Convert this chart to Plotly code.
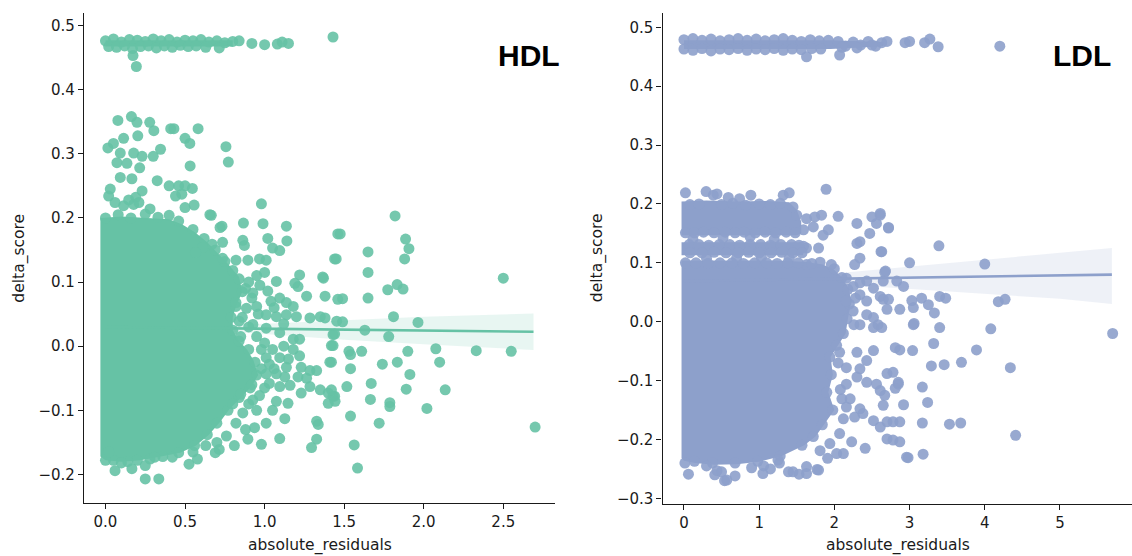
import plotly.graph_objects as go

# ---------------- HDL panel data ----------------
hdl_color = "#66c2a5"
# outlines of the fully over-plotted (solid) areas of the HDL cloud
hdl_core_x = [-0.032, -0.032, 0.10, 0.25, 0.40, 0.48, 0.56, 0.64, 0.70, 0.77, 0.84, 0.86, 0.82, 0.80, 0.80, 0.84,
              0.89, 0.93, 0.96, 0.92, 0.86, 0.78, 0.72, 0.65, 0.57, 0.47, 0.35, 0.22, 0.10, 0.0]
hdl_core_y = [-0.172, 0.200, 0.202, 0.200, 0.198, 0.190, 0.178, 0.162, 0.147, 0.128, 0.108, 0.085, 0.062, 0.045,
              0.025, 0.008, -0.005, -0.022, -0.045, -0.062, -0.078, -0.098, -0.118, -0.138, -0.155, -0.166,
              -0.172, -0.178, -0.180, -0.178]
hdl_band_x = [0.0, 0.0, 0.80, 0.80]
hdl_band_y = [0.467, 0.477, 0.477, 0.467]

hdl_top_band = [
    (0.00, 0.476), (0.05, 0.479), (0.10, 0.474), (0.15, 0.478), (0.20, 0.477), (0.25, 0.475), (0.30, 0.479),
    (0.35, 0.476), (0.40, 0.478), (0.45, 0.474), (0.50, 0.477), (0.55, 0.476), (0.60, 0.478), (0.65, 0.474),
    (0.70, 0.476), (0.75, 0.473), (0.80, 0.475), (0.84, 0.476),
    (0.02, 0.467), (0.07, 0.466), (0.12, 0.468), (0.17, 0.464), (0.22, 0.467), (0.27, 0.468), (0.32, 0.465),
    (0.37, 0.468), (0.42, 0.466), (0.47, 0.469), (0.52, 0.467), (0.57, 0.468), (0.63, 0.466), (0.715, 0.465),
    (0.92, 0.472), (1.00, 0.470), (1.08, 0.471), (1.11, 0.474), (1.15, 0.472), (1.43, 0.482),
    (0.173, 0.453), (0.194, 0.436)]

hdl_upper = [
    (0.078, 0.352), (0.163, 0.358), (0.198, 0.349), (0.278, 0.349), (0.304, 0.336), (0.41, 0.339), (0.43, 0.339),
    (0.582, 0.339), (0.50, 0.324), (0.53, 0.316), (0.757, 0.311), (0.772, 0.287), (0.532, 0.281), (0.114, 0.324),
    (0.203, 0.328), (0.015, 0.309), (0.05, 0.316), (0.093, 0.301), (0.177, 0.301), (0.23, 0.296), (0.30, 0.296),
    (0.346, 0.307), (0.072, 0.286), (0.135, 0.285), (0.215, 0.278), (0.093, 0.263), (0.166, 0.261),
    (0.325, 0.258), (0.40, 0.25), (0.46, 0.25), (0.50, 0.25), (0.546, 0.246), (0.03, 0.245), (0.02, 0.234),
    (0.23, 0.242), (0.19, 0.232), (0.44, 0.234), (0.48, 0.237), (0.114, 0.219), (0.06, 0.224), (0.146, 0.228),
    (0.177, 0.221), (0.50, 0.216), (0.557, 0.22), (0.28, 0.214), (0.21, 0.224), (0.656, 0.205), (0.98, 0.222),
    (0.00, 0.200), (0.08, 0.205), (0.16, 0.200), (0.25, 0.206), (0.33, 0.201), (0.40, 0.204)]

hdl_core_edge = [
    (0.84, 0.105), (0.86, 0.085), (0.82, 0.062), (0.79, 0.045), (0.80, 0.025), (0.84, 0.008), (0.90, -0.005),
    (0.94, -0.025), (0.95, -0.045), (0.91, -0.065), (0.84, -0.080), (0.77, -0.100), (0.70, -0.120),
    (0.64, -0.138), (0.56, -0.155), (0.46, -0.166), (0.36, -0.172), (0.28, -0.176), (0.20, -0.178),
    (0.14, -0.180), (0.05, -0.178), (0.46, 0.195), (0.55, 0.182), (0.62, 0.168), (0.69, 0.150), (0.75, 0.132),
    (0.80, 0.118),
    (0.88, 0.090), (0.92, 0.075), (0.97, 0.095), (1.04, 0.070), (0.86, 0.045), (0.90, 0.030), (0.96, 0.050),
    (1.06, 0.060), (1.12, 0.035), (0.85, 0.015), (0.95, 0.015), (1.00, 0.005), (1.12, 0.000), (1.15, -0.020),
    (0.98, -0.035), (1.06, -0.035), (1.00, -0.065), (0.92, -0.060), (0.90, -0.090), (0.95, -0.100),
    (1.05, -0.100), (0.82, -0.120), (0.88, -0.130), (0.76, -0.140), (0.70, -0.150), (0.55, -0.165),
    (0.80, -0.090), (0.85, -0.075)]

hdl_edge = [
    (0.732, 0.187), (0.867, 0.192), (0.99, 0.191), (1.137, 0.187), (0.72, 0.185), (0.665, 0.204), (0.863, 0.165),
    (0.873, 0.157), (1.02, 0.168), (1.05, 0.153), (1.095, 0.149), (1.14, 0.164), (0.736, 0.162), (0.67, 0.159),
    (0.61, 0.154), (0.566, 0.146), (0.82, 0.134), (0.895, 0.134), (0.968, 0.136), (1.01, 0.134), (0.736, 0.137),
    (1.22, 0.111), (1.365, 0.108), (1.44, 0.136), (1.46, 0.175),
    (1.074, 0.101), (1.19, 0.098), (1.21, 0.093), (1.37, 0.106), (1.264, 0.078), (1.38, 0.078), (1.46, 0.073),
    (0.926, 0.083), (1.02, 0.086), (1.095, 0.075), (1.137, 0.068), (1.18, 0.062), (0.82, 0.068), (0.886, 0.059),
    (0.95, 0.062), (0.90, 0.10), (0.95, 0.11), (1.0, 0.115),
    (1.01, 0.049), (1.074, 0.046), (1.137, 0.049), (1.2, 0.046), (1.285, 0.044), (1.35, 0.046), (1.38, 0.044),
    (1.453, 0.039), (0.84, 0.039), (0.926, 0.034), (1.01, 0.028), (1.095, 0.021), (1.18, 0.011), (1.22, 0.011),
    (1.43, 0.018), (1.42, 0.001), (1.41, -0.025),
    (0.98, -0.005), (1.05, -0.005), (1.01, -0.018), (1.095, -0.018), (1.03, -0.028), (1.137, -0.033),
    (1.18, -0.005), (1.22, -0.015), (1.23, -0.033), (1.285, -0.038), (1.327, -0.038), (1.01, -0.043),
    (1.074, -0.043), (1.127, -0.048), (1.16, -0.061), (1.095, -0.063), (1.03, -0.058), (1.21, -0.048),
    (1.264, -0.05), (1.285, -0.063), (1.35, -0.068), (1.40, -0.073), (1.44, -0.078), (1.23, -0.073),
    (1.074, -0.086), (1.147, -0.089), (1.40, -0.089), (0.926, -0.084), (0.968, -0.077), (0.863, -0.104),
    (0.937, -0.127), (1.01, -0.12), (1.127, -0.113), (1.327, -0.117), (1.337, -0.122), (1.327, -0.145),
    (1.295, -0.158), (1.095, -0.144), (0.895, -0.145), (0.98, -0.153), (0.81, -0.155), (0.69, -0.166),
    (0.715, -0.161), (0.63, -0.155), (0.525, -0.184), (0.578, -0.176), (0.42, -0.173), (0.31, -0.173),
    (0.25, -0.186), (0.166, -0.191), (0.06, -0.194), (0.25, -0.207), (0.335, -0.207), (0.0, -0.178),
    (0.10, -0.182), (0.02, -0.165)]

hdl_far = [
    (1.82, 0.203), (1.475, 0.175), (1.886, 0.167), (1.907, 0.152), (1.88, 0.136), (1.65, 0.147), (1.45, 0.136),
    (1.65, 0.115), (2.50, 0.106), (1.774, 0.088), (1.833, 0.096), (1.87, 0.089), (1.49, 0.074), (1.65, 0.075),
    (1.49, 0.038), (1.81, 0.046), (1.964, 0.037), (1.63, 0.025), (1.44, 0.019), (1.78, 0.015), (1.43, 0.001),
    (1.53, -0.008), (1.54, -0.013), (1.61, -0.008), (1.90, -0.008), (2.076, -0.004), (2.33, -0.007),
    (2.55, -0.008), (2.10, -0.025), (1.834, -0.025), (1.74, -0.028), (1.54, -0.035), (1.42, -0.025),
    (1.913, -0.044), (1.67, -0.058), (1.517, -0.063), (1.89, -0.067), (2.135, -0.068), (1.43, -0.078),
    (1.443, -0.086), (1.42, -0.068), (1.665, -0.083), (1.787, -0.088), (1.787, -0.094), (2.02, -0.097),
    (1.54, -0.109), (1.72, -0.12), (2.70, -0.126), (1.563, -0.154), (1.584, -0.19)]

hdl_fit_x = [0.0, 0.5, 1.0, 1.5, 2.0, 2.69]
hdl_fit_y = [0.030, 0.0285, 0.027, 0.0255, 0.0245, 0.0225]
hdl_ci_hi = [0.034, 0.031, 0.035, 0.041, 0.046, 0.051]
hdl_ci_lo = [0.026, 0.026, 0.019, 0.010, 0.003, -0.006]

hdl_xticks = [0.0, 0.5, 1.0, 1.5, 2.0, 2.5]
hdl_xticktext = ["0.0", "0.5", "1.0", "1.5", "2.0", "2.5"]
hdl_yticks = [-0.2, -0.1, 0.0, 0.1, 0.2, 0.3, 0.4, 0.5]
hdl_yticktext = ["\u22120.2", "\u22120.1", "0.0", "0.1", "0.2", "0.3", "0.4", "0.5"]

# ---------------- LDL panel data ----------------
ldl_color = "#8da0cb"
ldl_core1_x = [-0.032, -0.032, 0.30, 0.70, 1.10, 1.40, 1.50, 1.56, 1.56, 1.50]
ldl_core1_y = [0.147, 0.204, 0.206, 0.204, 0.205, 0.203, 0.190, 0.170, 0.150, 0.147]
ldl_core2_x = [-0.032, -0.032, 1.55, 1.62, 1.58]
ldl_core2_y = [0.113, 0.135, 0.135, 0.125, 0.113]
ldl_core3_x = [-0.032, -0.032, 0.6, 1.2, 1.6, 1.85, 2.0, 2.1, 2.2, 2.22, 2.18, 2.15, 2.05, 1.95, 1.98, 1.92, 2.0,
               1.85, 1.75, 1.6, 1.3, 1.0, 0.7, 0.4, 0.15, 0.0]
ldl_core3_y = [-0.232, 0.104, 0.104, 0.104, 0.102, 0.097, 0.088, 0.075, 0.055, 0.03, 0.005, -0.02, -0.04, -0.06,
               -0.09, -0.12, -0.15, -0.178, -0.195, -0.21, -0.228, -0.238, -0.242, -0.243, -0.24, -0.236]
ldl_band_x = [0.0, 0.0, 1.95, 2.65, 2.65, 1.95]
ldl_band_y = [0.463, 0.478, 0.478, 0.475, 0.468, 0.463]

ldl_top_band = [
    (0.00, 0.479), (0.12, 0.481), (0.24, 0.478), (0.36, 0.480), (0.48, 0.477), (0.60, 0.479), (0.72, 0.481),
    (0.84, 0.478), (0.96, 0.480), (1.08, 0.477), (1.20, 0.479), (1.32, 0.481), (1.44, 0.478), (1.56, 0.476),
    (1.68, 0.479), (1.80, 0.477), (1.92, 0.478),
    (0.00, 0.463), (0.12, 0.461), (0.24, 0.464), (0.36, 0.460), (0.48, 0.463), (0.60, 0.462), (0.72, 0.464),
    (0.84, 0.461), (0.96, 0.463), (1.08, 0.462), (1.20, 0.464), (1.32, 0.461), (1.44, 0.463), (1.56, 0.462),
    (1.70, 0.464), (1.82, 0.463),
    (2.05, 0.476), (2.15, 0.468), (2.25, 0.475), (2.35, 0.470), (2.45, 0.476), (2.55, 0.468), (2.63, 0.474),
    (2.70, 0.476), (2.10, 0.466), (2.30, 0.465), (2.50, 0.470), (2.94, 0.474), (3.00, 0.476), (3.20, 0.474),
    (3.27, 0.480), (3.38, 0.467), (4.20, 0.468), (1.63, 0.450), (2.07, 0.453)]

ldl_upper = [
    (0.02, 0.219), (0.295, 0.221), (0.39, 0.215), (0.44, 0.217), (0.59, 0.211), (0.74, 0.209), (0.89, 0.215),
    (1.32, 0.215), (1.40, 0.219), (1.89, 0.225),
    (0.08, 0.199), (0.20, 0.200), (0.50, 0.199), (0.65, 0.201), (0.82, 0.198), (1.00, 0.200), (1.15, 0.199),
    (1.28, 0.201),
    (1.50, 0.181), (1.63, 0.175), (1.74, 0.178), (1.83, 0.181), (1.92, 0.156), (1.85, 0.147), (1.72, 0.161),
    (1.59, 0.156), (2.05, 0.179), (1.45, 0.195),
    (0.12, 0.140), (0.52, 0.142), (0.88, 0.144), (1.20, 0.140), (0.30, 0.108), (1.03, 0.109), (0.70, 0.108),
    (1.40, 0.108),
    (1.63, 0.125), (1.79, 0.125), (1.59, 0.128), (1.96, 0.097), (1.81, 0.101), (1.63, 0.097)]

# bumps along the edges of the stacked horizontal bands
ldl_band_edges = [
    (0.02, 0.151), (0.14, 0.151), (0.26, 0.152), (0.40, 0.151), (0.55, 0.152), (0.68, 0.151), (0.80, 0.152),
    (0.95, 0.151), (1.08, 0.152), (1.22, 0.151), (1.36, 0.152), (1.48, 0.151),
    (0.07, 0.131), (0.20, 0.131), (0.33, 0.130), (0.47, 0.131), (0.61, 0.131), (0.74, 0.130), (0.88, 0.131),
    (1.02, 0.131), (1.15, 0.130), (1.29, 0.131), (1.43, 0.131), (1.53, 0.130),
    (0.08, 0.117), (0.24, 0.117), (0.40, 0.118), (0.56, 0.117), (0.72, 0.117), (0.86, 0.118), (1.00, 0.117),
    (1.16, 0.117), (1.30, 0.118), (1.45, 0.117), (1.57, 0.117),
    (0.02, 0.100), (0.16, 0.100), (0.32, 0.099), (0.48, 0.100), (0.64, 0.100), (0.79, 0.099), (0.94, 0.100),
    (1.10, 0.100), (1.24, 0.099), (1.38, 0.100), (1.52, 0.100), (1.70, 0.099)]

ldl_core_edge = [
    (2.00, 0.090), (2.10, 0.075), (2.18, 0.055), (2.20, 0.030), (2.17, 0.005), (2.12, -0.020), (2.03, -0.040),
    (1.94, -0.060), (1.96, -0.090), (1.90, -0.120), (1.98, -0.150), (1.84, -0.175), (1.72, -0.195),
    (1.57, -0.210), (1.28, -0.228), (0.98, -0.237), (0.68, -0.240), (0.38, -0.240), (0.14, -0.237)]

ldl_right = [
    (2.30, 0.167), (2.50, 0.178), (2.61, 0.184), (2.56, 0.167), (2.72, 0.159), (2.47, 0.150), (2.34, 0.136),
    (2.30, 0.133), (2.62, 0.119), (2.34, 0.108), (2.27, 0.097), (3.00, 0.100), (2.68, 0.086), (2.83, 0.069),
    (2.92, 0.060), (2.43, 0.069), (2.87, 0.021), (3.05, 0.024), (3.05, -0.005), (2.72, 0.038), (2.61, 0.043),
    (2.58, -0.005), (2.52, 0.007),
    (2.16, 0.074), (2.34, 0.066), (2.52, 0.057), (2.34, 0.046), (2.16, 0.035), (2.43, 0.035), (2.25, 0.018),
    (2.43, 0.012), (2.34, -0.005), (2.52, -0.010), (2.25, 0.060), (2.28, 0.040), (2.26, -0.005),
    (2.61, 0.181), (2.72, 0.160), (2.63, 0.119), (3.39, 0.129), (4.00, 0.098), (2.67, 0.084), (2.65, 0.069),
    (3.40, 0.043), (3.48, 0.040), (4.18, 0.034), (4.27, 0.038), (2.65, 0.038), (2.70, 0.021), (3.03, 0.036),
    (3.16, 0.040), (3.25, 0.029), (3.33, 0.015), (2.63, -0.010), (3.06, -0.003), (3.40, -0.010), (4.08, -0.012),
    (5.70, -0.020), (2.81, -0.044), (2.87, -0.048), (3.04, -0.049), (3.32, -0.037), (3.89, -0.048),
    (3.29, -0.075), (3.46, -0.073), (3.69, -0.069), (4.34, -0.078), (2.70, -0.088), (2.78, -0.086),
    (2.85, -0.106), (2.81, -0.113), (3.17, -0.111), (3.24, -0.137), (2.67, -0.125), (2.92, -0.141),
    (2.65, -0.142), (2.70, -0.170), (2.87, -0.170), (2.78, -0.170), (3.17, -0.172), (3.53, -0.174),
    (3.68, -0.172), (2.70, -0.199), (2.78, -0.201), (2.87, -0.204), (2.98, -0.231), (3.18, -0.225),
    (4.41, -0.193),
    (2.07, -0.052), (2.30, -0.052), (2.43, -0.066), (2.52, -0.049), (2.16, -0.078), (2.34, -0.080),
    (2.30, -0.094), (2.16, -0.106), (2.43, -0.103), (2.56, -0.106), (2.85, -0.103), (2.61, -0.117),
    (2.10, -0.131), (2.21, -0.131), (2.16, -0.145), (2.34, -0.148), (2.27, -0.162), (2.38, -0.156),
    (2.52, -0.168), (2.61, -0.179), (2.07, -0.190), (2.23, -0.204), (2.41, -0.215), (2.12, -0.224),
    (2.96, -0.230), (1.94, -0.207), (1.81, -0.219), (2.05, -0.070), (2.08, -0.115), (2.12, -0.165)]

ldl_bottom = [
    (0.06, -0.259), (0.44, -0.253), (0.54, -0.270), (0.68, -0.262), (1.06, -0.245), (1.27, -0.240),
    (1.39, -0.255), (1.53, -0.259), (1.63, -0.258), (1.77, -0.251), (1.91, -0.232), (2.03, -0.224),
    (0.41, -0.260), (0.57, -0.269), (1.05, -0.258), (0.013, -0.240), (0.50, -0.255), (0.30, -0.245),
    (0.90, -0.248), (1.15, -0.250), (1.25, -0.235), (1.45, -0.255), (1.63, -0.246), (1.79, -0.252)]

ldl_fit_x = [0.0, 1.0, 2.0, 3.0, 4.0, 5.0, 5.69]
ldl_fit_y = [0.069, 0.071, 0.073, 0.075, 0.0765, 0.078, 0.080]
ldl_ci_hi = [0.074, 0.075, 0.082, 0.094, 0.106, 0.117, 0.125]
ldl_ci_lo = [0.064, 0.067, 0.064, 0.056, 0.047, 0.039, 0.030]

ldl_xticks = [0, 1, 2, 3, 4, 5]
ldl_xticktext = ["0", "1", "2", "3", "4", "5"]
ldl_yticks = [-0.3, -0.2, -0.1, 0.0, 0.1, 0.2, 0.3, 0.4, 0.5]
ldl_yticktext = ["\u22120.3", "\u22120.2", "\u22120.1", "0.0", "0.1", "0.2", "0.3", "0.4", "0.5"]

panel_titles = ["HDL", "LDL"]
x_title = "absolute_residuals"
y_title = "delta_score"


def rgba(hex_color, a):
    h = hex_color.lstrip("#")
    r, g, b = int(h[0:2], 16), int(h[2:4], 16), int(h[4:6], 16)
    return f"rgba({r},{g},{b},{a})"


def unzip(pairs):
    return [p[0] for p in pairs], [p[1] for p in pairs]


fig = go.Figure()


def add_panel(xa, ya, color, cores, point_groups, fx, fy, lo, hi):
    # confidence band of the regression
    fig.add_trace(go.Scatter(x=fx + fx[::-1], y=hi + lo[::-1], fill="toself", mode="lines",
                             line=dict(width=0), fillcolor=rgba(color, 0.15),
                             xaxis=xa, yaxis=ya, hoverinfo="skip", showlegend=False))
    # solid, fully over-plotted areas of the cloud
    for cx, cy in cores:
        fig.add_trace(go.Scatter(x=cx, y=cy, fill="toself", mode="lines",
                                 line=dict(width=0, color=color), fillcolor=color,
                                 xaxis=xa, yaxis=ya, hoverinfo="skip", showlegend=False))
    px, py = [], []
    for g in point_groups:
        gx, gy = unzip(g)
        px += gx
        py += gy
    fig.add_trace(go.Scatter(x=px, y=py, mode="markers",
                             marker=dict(size=11, color=color, opacity=0.9, line=dict(width=0)),
                             xaxis=xa, yaxis=ya, hoverinfo="skip", showlegend=False))
    fig.add_trace(go.Scatter(x=fx, y=fy, mode="lines", line=dict(color=color, width=2.6),
                             xaxis=xa, yaxis=ya, hoverinfo="skip", showlegend=False))


add_panel("x", "y", hdl_color, [(hdl_core_x, hdl_core_y), (hdl_band_x, hdl_band_y)],
          [hdl_top_band, hdl_upper, hdl_core_edge, hdl_edge, hdl_far],
          hdl_fit_x, hdl_fit_y, hdl_ci_lo, hdl_ci_hi)
add_panel("x2", "y2", ldl_color,
          [(ldl_core1_x, ldl_core1_y), (ldl_core2_x, ldl_core2_y), (ldl_core3_x, ldl_core3_y),
           (ldl_band_x, ldl_band_y)],
          [ldl_top_band, ldl_upper, ldl_band_edges, ldl_core_edge, ldl_right, ldl_bottom],
          ldl_fit_x, ldl_fit_y, ldl_ci_lo, ldl_ci_hi)

tick_font = dict(family="DejaVu Sans", size=15, color="#1a1a1a")
axis_common = dict(showline=True, linecolor="#1a1a1a", linewidth=1.2, ticks="outside", ticklen=5,
                   tickwidth=1.2, tickcolor="#1a1a1a", showgrid=False, zeroline=False, tickfont=tick_font,
                   fixedrange=True)

W, H = 1132, 556
fig.update_layout(
    width=W, height=H, margin=dict(l=0, r=0, t=0, b=0),
    paper_bgcolor="white", plot_bgcolor="white", showlegend=False,
    xaxis=dict(domain=[84 / W, 555 / W], range=[-0.135, 2.825], anchor="y",
               tickvals=hdl_xticks, ticktext=hdl_xticktext, **axis_common),
    yaxis=dict(domain=[1 - 507 / H, 1 - 12.7 / H], range=[-0.245, 0.52], anchor="x",
               tickvals=hdl_yticks, ticktext=hdl_yticktext, **axis_common),
    xaxis2=dict(domain=[662.5 / W, 1.0], range=[-0.285, (W - 684) / 75.2], anchor="y2",
                tickvals=ldl_xticks, ticktext=ldl_xticktext, **axis_common),
    yaxis2=dict(domain=[1 - 507.3 / H, 1 - 12.7 / H], range=[-0.309, 0.525], anchor="x2",
                tickvals=ldl_yticks, ticktext=ldl_yticktext, **axis_common),
)

label_font = dict(family="DejaVu Sans", size=15.5, color="#1a1a1a")
annotations = []
for cx in [319.5 / W, 898 / W]:
    annotations.append(dict(text=x_title, x=cx, y=1 - 549 / H, xref="paper", yref="paper",
                            showarrow=False, font=label_font, xanchor="center", yanchor="middle"))
for cx in [19.5 / W, 597 / W]:
    annotations.append(dict(text=y_title, x=cx, y=1 - 260 / H, xref="paper", yref="paper",
                            showarrow=False, font=label_font, textangle=-90,
                            xanchor="center", yanchor="middle"))
for t, cx in zip(panel_titles, [529 / W, 1082 / W]):
    annotations.append(dict(text=f"<b>{t}</b>", x=cx, y=1 - 56 / H, xref="paper", yref="paper",
                            showarrow=False, xanchor="center", yanchor="middle",
                            font=dict(family="Liberation Sans", size=30, color="black")))
fig.update_layout(annotations=annotations)

fig.write_html("out.html")
